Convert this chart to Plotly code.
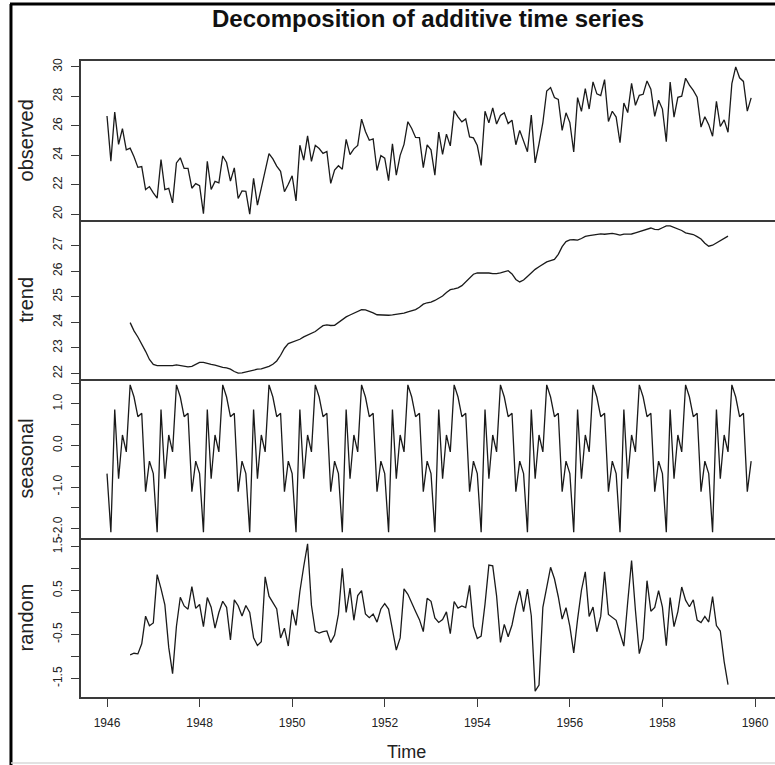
import plotly.graph_objects as go

# ---------------- data ----------------
start_year = 1946
frequency = 12

observed = [
    26.663, 23.598, 26.931, 24.740, 25.806, 24.364, 24.477, 23.901, 23.175, 23.227, 21.672, 21.870,
    21.439, 21.089, 23.709, 21.669, 21.752, 20.761, 23.479, 23.824, 23.105, 23.110, 21.759, 22.073,
    21.937, 20.035, 23.590, 21.672, 22.222, 22.123, 23.950, 23.504, 22.238, 23.142, 21.059, 21.573,
    21.548, 20.000, 22.424, 20.615, 21.761, 22.874, 24.104, 23.748, 23.262, 22.907, 21.519, 22.025,
    22.604, 20.894, 24.677, 23.673, 25.320, 23.583, 24.671, 24.454, 24.122, 24.252, 22.084, 22.991,
    23.287, 23.049, 25.076, 24.037, 24.430, 24.667, 26.451, 25.618, 25.014, 25.110, 22.964, 23.981,
    23.798, 22.270, 24.775, 22.646, 23.988, 24.737, 26.276, 25.816, 25.210, 25.199, 23.162, 24.707,
    24.364, 22.644, 25.565, 24.062, 25.431, 24.635, 27.009, 26.606, 26.268, 26.462, 25.246, 25.180,
    24.657, 23.304, 26.982, 26.199, 27.210, 26.122, 26.706, 26.878, 26.152, 26.379, 24.712, 25.688,
    24.990, 24.239, 26.721, 23.475, 24.767, 26.219, 28.361, 28.599, 27.914, 27.784, 25.693, 26.881,
    26.217, 24.218, 27.914, 26.975, 28.527, 27.139, 28.982, 28.169, 28.056, 29.136, 26.291, 26.987,
    26.589, 24.848, 27.543, 26.896, 28.878, 27.390, 28.065, 28.141, 29.048, 28.484, 26.634, 27.735,
    27.132, 24.924, 28.963, 26.589, 27.931, 28.009, 29.229, 28.759, 28.405, 27.945, 25.912, 26.619,
    26.076, 25.286, 27.660, 25.951, 26.398, 25.565, 28.865, 30.000, 29.261, 29.012, 26.992, 27.897,
]

# trend: Jul 1946 .. Jun 1959
trend = [
    23.9843, 23.6621, 23.4233, 23.1611, 22.8643, 22.5452,
    22.3535, 22.3087, 22.3026, 22.2948, 22.2935, 22.3056, 22.3348, 22.3117, 22.2628, 22.2580, 22.2777, 22.3540,
    22.4304, 22.4367, 22.3872, 22.3524, 22.3246, 22.2746, 22.2375, 22.2199, 22.1698, 22.0772, 22.0140, 22.0260,
    22.0638, 22.0803, 22.1332, 22.1660, 22.1754, 22.2134, 22.2763, 22.3575, 22.4886, 22.7099, 22.9856, 23.1635,
    23.2166, 23.2697, 23.3349, 23.4268, 23.5064, 23.5702, 23.6389, 23.7571, 23.8635, 23.8953, 23.8734, 23.8815,
    24.0008, 24.1235, 24.2092, 24.2821, 24.3545, 24.4324, 24.4950, 24.4838, 24.4388, 24.3683, 24.2919, 24.2764,
    24.2720, 24.2730, 24.2894, 24.3013, 24.3133, 24.3518, 24.4056, 24.4448, 24.4933, 24.5852, 24.7043, 24.7602,
    24.7865, 24.8499, 24.9269, 25.0236, 25.1631, 25.2696, 25.3015, 25.3413, 25.4278, 25.5759, 25.7390, 25.8751,
    25.9245, 25.9232, 25.9297, 25.9214, 25.8957, 25.8946, 25.9296, 25.9825, 26.0105, 25.8862, 25.6709, 25.5731,
    25.6461, 25.7868, 25.9319, 26.0639, 26.1633, 26.2539, 26.3547, 26.4050, 26.4538, 26.6493, 26.9518, 27.1468,
    27.2110, 27.2190, 27.2070, 27.2693, 27.3505, 27.3798, 27.3998, 27.4415, 27.4523, 27.4335, 27.4449, 27.4700,
    27.4422, 27.4028, 27.4430, 27.4572, 27.4443, 27.4898, 27.5435, 27.5693, 27.6317, 27.6780, 27.6258, 27.6121,
    27.6864, 27.7607, 27.7596, 27.7104, 27.6578, 27.5813, 27.4908, 27.4618, 27.4226, 27.3418, 27.2513, 27.0856,
    26.9686, 27.0051, 27.0925, 27.1726, 27.2621, 27.3603,
]

# seasonal figure (Jan..Dec), repeated every year
seasonal_figure = [-0.6772, -2.0830, 0.8625, -0.8017, 0.2517, -0.1533,
                   1.4560, 1.1646, 0.6916, 0.7752, -1.1098, -0.3768]

# random: Jul 1946 .. Jun 1959
random_part = [
    -0.9633, -0.9257, -0.9399, -0.7093, -0.0825, -0.2984,
    -0.2373, 0.8633, 0.5439, 0.1759, -0.7932, -1.3913, -0.3118, 0.3477, 0.1506, 0.0768, 0.5911, 0.0958,
    0.1838, -0.3187, 0.3403, 0.1213, -0.3543, 0.0017, 0.2565, 0.1195, -0.6234, 0.2896, 0.1548, -0.0762,
    0.1614, 0.0027, -0.5717, -0.7493, -0.6661, 0.8139, 0.3717, 0.2259, 0.0818, -0.5781, -0.3568, -0.7617,
    0.0646, -0.2927, 0.4796, 1.0479, 1.5619, 0.1661, -0.4239, -0.4677, -0.4331, -0.4185, -0.6796, -0.5137,
    -0.0366, 1.0085, 0.0043, 0.5566, -0.1762, 0.3879, 0.5000, -0.0304, -0.1164, -0.0335, -0.2181, 0.0814,
    0.2032, 0.0800, -0.3769, -0.8536, -0.5770, 0.5385, 0.4144, 0.2066, 0.0251, -0.1614, -0.4325, 0.3236,
    0.2547, -0.1229, -0.2244, -0.1599, 0.0162, -0.4813, 0.2515, 0.1001, 0.1486, 0.1109, 0.6168, -0.3183,
    -0.5903, -0.5362, 0.1898, 1.0793, 1.0626, 0.3807, -0.6796, -0.2691, -0.5501, -0.2824, 0.1509, 0.4917,
    0.0211, 0.5352, -0.0734, -1.7872, -1.6480, 0.1184, 0.5503, 1.0294, 0.7686, 0.3595, -0.1490, 0.1110,
    -0.3168, -0.9180, -0.1555, 0.5074, 0.9248, -0.0875, 0.1262, -0.4371, -0.0879, 0.9273, -0.0441, -0.1062,
    -0.1760, -0.4718, -0.7625, 0.2405, 1.1820, 0.0535, -0.9345, -0.5929, 0.7247, 0.0308, 0.1180, 0.4997,
    0.1228, -0.7537, 0.3409, -0.3197, 0.0215, 0.5810, 0.2822, 0.1326, 0.2908, -0.1720, -0.2295, -0.0898,
    -0.2154, 0.3639, -0.2950, -0.4199, -1.1158, -1.6420,
]

panel_names = ["observed", "trend", "seasonal", "random"]
x_tick_years = [1946, 1948, 1950, 1952, 1954, 1956, 1958, 1960]
observed_ticks = [20, 22, 24, 26, 28, 30]
trend_ticks = [22, 23, 24, 25, 26, 27]
seasonal_ticks = [-2.0, -1.5, -1.0, -0.5, 0.0, 0.5, 1.0, 1.5]
seasonal_ticktext = ["-2.0", "", "-1.0", "", "0.0", "", "1.0", ""]
random_ticks = [-1.5, -1.0, -0.5, 0.0, 0.5, 1.0, 1.5]
random_ticktext = ["-1.5", "", "-0.5", "", "0.5", "", "1.5"]

# ---------------- build ----------------
n = len(observed)
times = [start_year + i / frequency for i in range(n)]
offset = 6  # centred moving average loses 6 months at each end
t_mid = times[offset:offset + len(trend)]
seasonal = [seasonal_figure[i % frequency] for i in range(n)]

def padded(vals):
    lo, hi = min(vals), max(vals)
    p = (hi - lo) * 0.04
    return [lo - p, hi + p]

FONT = "Liberation Sans, Arial, sans-serif"
LINE = dict(color="#1a1a1a", width=1.3)
AX = "#3a3a3a"

fig = go.Figure()
series = [(times, observed), (t_mid, trend), (times, seasonal), (t_mid, random_part)]
for k, (xs, ys) in enumerate(series):
    suffix = "" if k == 0 else str(k + 1)
    fig.add_trace(go.Scatter(x=xs, y=ys, mode="lines", line=LINE,
                             xaxis="x" + suffix, yaxis="y" + suffix,
                             showlegend=False, hoverinfo="skip"))

xrange = [1945.438, 1960.432]
domains = [[0.75, 1.0], [0.5, 0.75], [0.25, 0.5], [0.0, 0.25]]
yticks = [
    (observed_ticks, [str(v) for v in observed_ticks]),
    (trend_ticks, [str(v) for v in trend_ticks]),
    (seasonal_ticks, seasonal_ticktext),
    (random_ticks, random_ticktext),
]
yranges = [padded(observed), padded(trend), padded(seasonal), padded(random_part)]

layout = dict(
    width=775, height=765,
    margin=dict(l=81, r=0, t=61, b=68),
    paper_bgcolor="white", plot_bgcolor="white",
    font=dict(family=FONT, color="#222"),
)
for k in range(4):
    suffix = "" if k == 0 else str(k + 1)
    last = (k == 3)
    layout["xaxis" + suffix] = dict(
        domain=[0, 1], anchor="y" + suffix, range=xrange,
        showline=True, linecolor=AX, linewidth=1.5, mirror=(k == 0),
        showgrid=False, zeroline=False,
        tickmode="array", tickvals=x_tick_years,
        ticktext=[str(v) for v in x_tick_years],
        ticks="outside" if last else "", ticklen=8, tickwidth=1.2, tickcolor=AX,
        showticklabels=last, tickfont=dict(size=12, family=FONT, color="#222"),
        ticklabelstandoff=6,
    )
    tv, tt = yticks[k]
    layout["yaxis" + suffix] = dict(
        domain=domains[k], anchor="x" + suffix, range=yranges[k],
        showline=True, linecolor=AX, linewidth=1.5,
        showgrid=False, zeroline=False,
        tickmode="array", tickvals=tv, ticktext=tt,
        ticks="outside", ticklen=8, tickwidth=1.2, tickcolor=AX,
        tickangle=-90, tickfont=dict(size=12, family=FONT, color="#222"),
        ticklabelstandoff=4,
    )
fig.update_layout(**layout)

ann = [dict(text="<b>Decomposition of additive time series</b>", x=0.5, y=1.0676,
            xref="paper", yref="paper", showarrow=False, xanchor="center", yanchor="middle",
            font=dict(size=24, family=FONT, color="#111")),
       dict(text="Time", x=0.4697, y=-0.0865, xref="paper", yref="paper", showarrow=False,
            xanchor="center", yanchor="middle", font=dict(size=18, family=FONT, color="#222"))]
for k, name in enumerate(panel_names):
    d = domains[k]
    ann.append(dict(text=name, x=-0.0793, y=(d[0] + d[1]) / 2, xref="paper", yref="paper",
                    showarrow=False, textangle=-90, xanchor="center", yanchor="middle",
                    font=dict(size=20, family=FONT, color="#222")))
fig.update_layout(annotations=ann)

# screenshot frame
fig.update_layout(shapes=[
    dict(type="line", xref="paper", yref="paper", x0=-0.1009, x1=-0.1009, y0=-0.11, y1=1.0896,
         line=dict(color="#000", width=3)),
    dict(type="line", xref="paper", yref="paper", x0=-0.1023, x1=1.0, y0=1.0896, y1=1.0896,
         line=dict(color="#000", width=3)),
    dict(type="line", xref="paper", yref="paper", x0=-0.1009, x1=1.0, y0=-0.1038, y1=-0.1038,
         line=dict(color="#d8d8d8", width=1.5)),
])

fig.write_html("out.html")
